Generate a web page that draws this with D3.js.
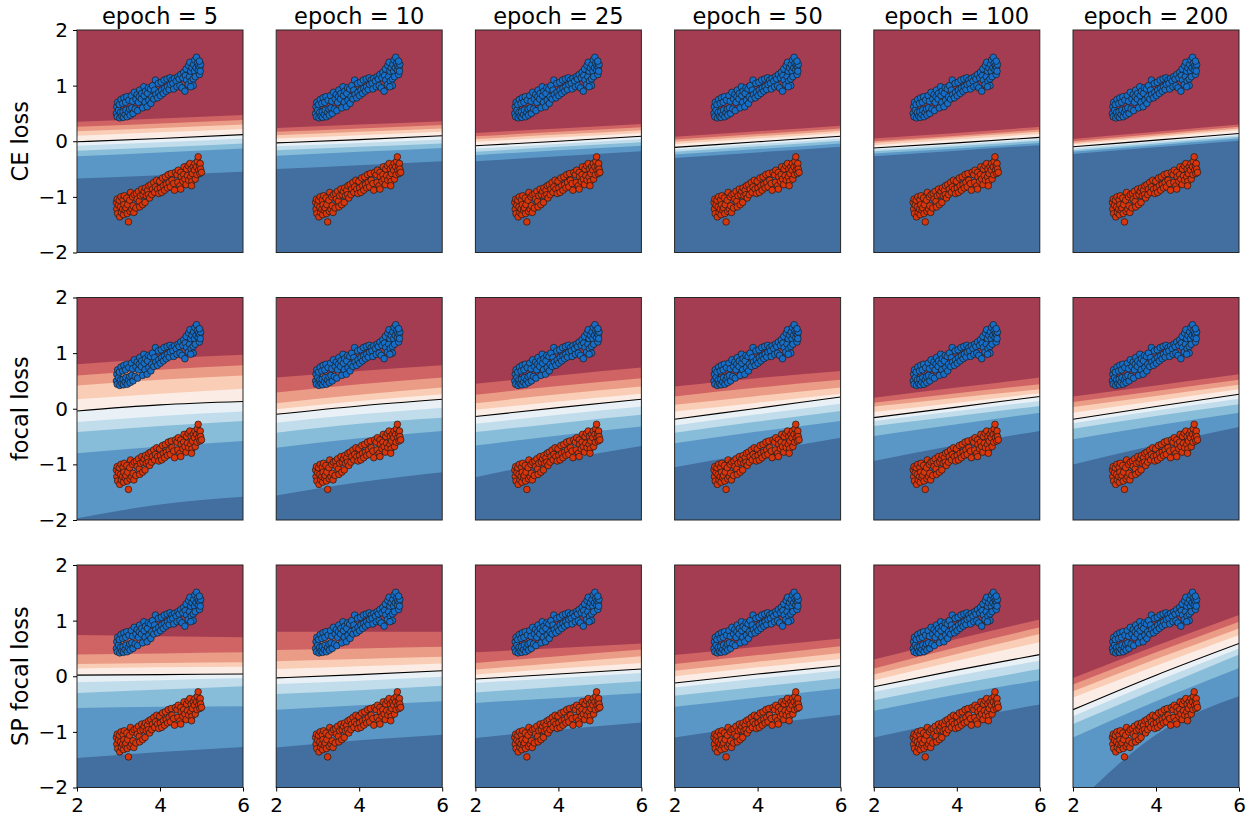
<!DOCTYPE html>
<html>
<head>
<meta charset="utf-8">
<script src="https://cdn.jsdelivr.net/npm/d3@7"></script>
<style>
  body { margin: 0; background: #fff; }
  svg { font-family: "DejaVu Sans", sans-serif; }
</style>
</head>
<body>
<div id="viz"></div>
<script>
var width = 1255, height = 821;
var left = 77, top0 = 30;
var panelW = 166, panelH = 222.5, stepX = 199.2, stepY = 267.5;

var losses = ["CE loss", "focal loss", "SP focal loss"];
var epochs = [5, 10, 25, 50, 100, 200];
var levels = [0.1, 0.2, 0.3, 0.4, 0.5, 0.6, 0.7, 0.8, 0.9];
var boundaryX = [2, 4, 6];
var xTicks = [2, 4, 6];
var yTicks = [-2, -1, 0, 1, 2];

// y of each contour level (0.1 .. 0.9) at x = 2, 4, 6
var ceBounds = [
  [[0.35,0.41,0.47],[0.26,0.32,0.38],[0.18,0.24,0.30],[0.10,0.16,0.22],[-0.01,0.05,0.12],[-0.08,-0.02,0.05],[-0.17,-0.11,-0.04],[-0.27,-0.20,-0.13],[-0.67,-0.61,-0.55]],
  [[0.24,0.30,0.36],[0.17,0.23,0.29],[0.11,0.17,0.23],[0.05,0.11,0.17],[-0.03,0.03,0.10],[-0.09,-0.03,0.03],[-0.16,-0.10,-0.04],[-0.26,-0.19,-0.12],[-0.50,-0.43,-0.36]],
  [[0.15,0.23,0.31],[0.09,0.17,0.25],[0.04,0.12,0.20],[-0.01,0.07,0.15],[-0.08,0.00,0.09],[-0.13,-0.05,0.04],[-0.19,-0.10,-0.02],[-0.25,-0.16,-0.08],[-0.36,-0.27,-0.18]],
  [[0.08,0.18,0.28],[0.03,0.13,0.23],[-0.01,0.09,0.19],[-0.05,0.05,0.15],[-0.11,-0.01,0.09],[-0.15,-0.05,0.05],[-0.19,-0.09,0.01],[-0.24,-0.14,-0.04],[-0.30,-0.20,-0.10]],
  [[0.05,0.15,0.26],[0.00,0.10,0.21],[-0.03,0.07,0.17],[-0.07,0.03,0.13],[-0.12,-0.03,0.07],[-0.15,-0.06,0.04],[-0.18,-0.09,0.01],[-0.22,-0.13,-0.03],[-0.27,-0.17,-0.07]],
  [[0.04,0.17,0.30],[0.00,0.13,0.26],[-0.03,0.10,0.23],[-0.06,0.07,0.20],[-0.10,0.02,0.14],[-0.13,-0.01,0.11],[-0.16,-0.04,0.08],[-0.19,-0.07,0.05],[-0.23,-0.11,0.01]]
];
var focalBounds = [
  [[0.80,0.90,0.97],[0.60,0.70,0.78],[0.42,0.52,0.60],[0.17,0.27,0.36],[-0.04,0.07,0.13],[-0.24,-0.13,-0.05],[-0.42,-0.31,-0.22],[-0.80,-0.68,-0.58],[-1.97,-1.72,-1.58]],
  [[0.56,0.68,0.78],[0.29,0.44,0.56],[0.10,0.25,0.38],[-0.01,0.14,0.26],[-0.10,0.05,0.17],[-0.25,-0.10,0.02],[-0.43,-0.27,-0.16],[-0.70,-0.53,-0.40],[-1.56,-1.32,-1.14]],
  [[0.45,0.60,0.74],[0.25,0.41,0.55],[0.10,0.26,0.40],[-0.02,0.13,0.27],[-0.14,0.02,0.17],[-0.27,-0.11,0.04],[-0.42,-0.26,-0.11],[-0.66,-0.48,-0.32],[-1.23,-0.93,-0.67]],
  [[0.40,0.55,0.68],[0.22,0.38,0.52],[0.07,0.23,0.38],[-0.05,0.11,0.27],[-0.19,0.01,0.21],[-0.30,-0.10,0.09],[-0.43,-0.23,-0.04],[-0.62,-0.41,-0.22],[-1.05,-0.78,-0.52]],
  [[0.20,0.38,0.56],[0.11,0.28,0.44],[0.04,0.20,0.35],[-0.06,0.11,0.28],[-0.16,0.03,0.22],[-0.22,-0.04,0.14],[-0.31,-0.13,0.05],[-0.49,-0.28,-0.07],[-0.94,-0.65,-0.40]],
  [[0.22,0.42,0.62],[0.12,0.32,0.52],[0.03,0.23,0.43],[-0.07,0.14,0.35],[-0.19,0.04,0.26],[-0.26,-0.03,0.18],[-0.36,-0.13,0.08],[-0.55,-0.30,-0.07],[-1.00,-0.65,-0.33]]
];
var spBounds = [
  [[0.74,0.72,0.70],[0.39,0.41,0.43],[0.22,0.24,0.25],[0.14,0.16,0.17],[0.02,0.03,0.04],[-0.11,-0.07,-0.03],[-0.30,-0.24,-0.18],[-0.57,-0.55,-0.54],[-1.47,-1.36,-1.27]],
  [[0.80,0.80,0.80],[0.47,0.50,0.53],[0.27,0.31,0.35],[0.13,0.18,0.23],[-0.03,0.03,0.10],[-0.14,-0.08,-0.01],[-0.32,-0.25,-0.17],[-0.60,-0.52,-0.45],[-1.28,-1.15,-1.05]],
  [[0.43,0.51,0.59],[0.24,0.36,0.48],[0.12,0.24,0.36],[0.03,0.14,0.24],[-0.05,0.04,0.13],[-0.12,-0.03,0.06],[-0.29,-0.19,-0.09],[-0.48,-0.39,-0.30],[-1.11,-0.96,-0.83]],
  [[0.38,0.53,0.68],[0.22,0.38,0.54],[0.10,0.26,0.42],[0.00,0.16,0.31],[-0.12,0.04,0.19],[-0.20,-0.04,0.11],[-0.35,-0.19,-0.03],[-0.55,-0.38,-0.22],[-1.10,-0.88,-0.69]],
  [[0.30,0.67,1.02],[0.14,0.52,0.88],[0.03,0.40,0.76],[-0.07,0.28,0.61],[-0.19,0.11,0.39],[-0.28,0.01,0.28],[-0.43,-0.14,0.13],[-0.62,-0.33,-0.07],[-1.10,-0.78,-0.51]],
  [[-0.03,0.55,1.10],[-0.15,0.43,0.98],[-0.27,0.31,0.86],[-0.38,0.19,0.74],[-0.60,0.02,0.59],[-0.72,-0.09,0.50],[-0.86,-0.23,0.39],[-1.10,-0.45,0.15],[-2.35,-1.05,-0.36]]
];
var allBounds = [ceBounds, focalBounds, spBounds];

// training points, class 1 (blue, upper) and class 0 (red, lower)
var bluePoints = [
  [2.95,0.50],[2.96,0.62],[2.97,0.44],[2.98,0.70],[3.00,0.56],[3.02,0.66],[3.03,0.42],[3.05,0.52],[3.06,0.75],[3.08,0.45],
  [3.10,0.68],[3.11,0.53],[3.12,0.43],[3.13,0.78],[3.16,0.48],[3.17,0.70],[3.18,0.56],[3.20,0.80],[3.21,0.44],[3.24,0.52],
  [3.25,0.74],[3.27,0.58],[3.28,0.47],[3.31,0.82],[3.32,0.60],[3.34,0.72],[3.35,0.50],[3.38,0.88],[3.40,0.58],[3.42,0.76],
  [3.45,0.84],[3.46,0.55],[3.48,0.70],[3.50,0.80],[3.51,0.92],[3.55,0.76],[3.56,0.86],[3.58,0.60],[3.61,0.98],[3.62,0.82],
  [3.64,0.70],[3.65,0.90],[3.69,0.62],[3.70,0.86],[3.72,0.96],[3.73,0.74],[3.77,0.94],[3.78,0.68],[3.80,0.80],[3.82,1.00],
  [3.85,0.76],[3.87,0.92],[3.89,1.10],[3.90,0.84],[3.94,0.78],[3.96,1.04],[3.97,0.88],[4.01,0.82],[4.03,1.06],[4.04,0.92],
  [4.08,0.86],[4.10,1.10],[4.11,0.95],[4.15,0.90],[4.17,1.12],[4.18,0.98],[4.22,0.93],[4.24,1.14],[4.25,1.02],[4.29,1.10],
  [4.31,1.04],[4.33,0.94],[4.35,1.13],[4.39,1.08],[4.41,0.98],[4.43,1.16],[4.46,1.12],[4.48,1.00],[4.50,1.20],[4.53,0.96],
  [4.55,1.14],[4.57,1.24],[4.60,0.90],[4.61,1.18],[4.63,1.30],[4.64,1.10],[4.68,1.02],[4.69,1.36],[4.71,1.16],[4.72,1.42],
  [4.74,1.26],[4.75,1.08],[4.77,1.32],[4.80,1.12],[4.81,1.38],[4.83,1.26],[4.84,1.46],[4.85,1.16],[4.87,1.32],[4.88,1.51],
  [4.90,1.40],[4.92,1.28],[4.93,1.36],[4.95,1.20],[4.96,1.33],[4.97,1.26],[4.98,1.38],[4.95,1.44],[4.80,1.00],[4.74,0.98]
];
var redPoints = [
  [2.95,-1.10],[2.96,-1.22],[2.97,-1.04],[2.98,-1.30],[3.00,-1.15],[3.02,-1.06],[3.03,-1.36],[3.05,-1.18],[3.06,-1.00],[3.07,-1.28],
  [3.10,-1.22],[3.11,-1.05],[3.12,-1.32],[3.13,-1.14],[3.14,-0.98],[3.16,-1.24],[3.18,-1.20],[3.20,-1.02],[3.21,-1.30],[3.22,-1.14],
  [3.24,-1.45],[3.27,-1.06],[3.28,-1.26],[3.29,-0.92],[3.32,-1.22],[3.34,-1.00],[3.35,-1.16],[3.37,-1.28],[3.38,-0.96],[3.42,-1.20],
  [3.43,-0.94],[3.45,-1.04],[3.48,-0.90],[3.50,-1.08],[3.51,-1.18],[3.53,-0.98],[3.56,-0.86],[3.58,-1.14],[3.59,-0.96],[3.62,-0.90],
  [3.64,-1.10],[3.65,-0.84],[3.67,-0.98],[3.70,-0.88],[3.72,-0.96],[3.73,-0.80],[3.75,-1.02],[3.78,-0.78],[3.80,-0.96],[3.82,-0.86],
  [3.85,-0.74],[3.87,-0.92],[3.89,-0.82],[3.92,-0.70],[3.94,-0.86],[3.97,-0.94],[3.99,-0.72],[4.01,-0.84],[4.04,-0.92],[4.06,-0.66],
  [4.08,-0.80],[4.11,-0.88],[4.13,-0.64],[4.15,-0.78],[4.18,-0.84],[4.20,-0.60],[4.22,-0.74],[4.25,-0.82],[4.27,-0.58],[4.29,-0.70],
  [4.33,-0.76],[4.35,-0.88],[4.37,-0.56],[4.41,-0.60],[4.43,-0.74],[4.44,-0.52],[4.48,-0.80],[4.50,-0.56],[4.51,-0.64],[4.55,-0.72],
  [4.57,-0.60],[4.58,-0.46],[4.60,-0.68],[4.63,-0.78],[4.64,-0.50],[4.66,-0.62],[4.68,-0.44],[4.69,-0.70],[4.72,-0.40],[4.74,-0.64],
  [4.75,-0.50],[4.77,-0.72],[4.78,-0.58],[4.80,-0.46],[4.83,-0.52],[4.84,-0.40],[4.85,-0.68],[4.88,-0.46],[4.89,-0.60],[4.90,-0.36],
  [4.92,-0.28],[4.93,-0.52],[4.95,-0.44],[4.96,-0.58],[4.97,-0.40],[4.98,-0.50],[5.00,-0.56],[4.76,-0.80],[4.50,-0.86]
];

// matplotlib RdBu control colours
var rdbu = ["#67001f","#b2182b","#d6604d","#f4a582","#fddbc7","#f7f7f7","#d1e5f0","#92c5de","#4393c3","#2166ac","#053061"];
var cmap = d3.piecewise(d3.interpolateRgb, rdbu);
// band colours at level midpoints, alpha .8 over white
var bandColor = d3.range(10).map(k => d3.interpolateRgb("#ffffff", cmap(0.05 + 0.1 * k))(0.8));

var x = d3.scaleLinear().domain([2, 6]).range([0, panelW]);
var y = d3.scaleLinear().domain([-2, 2]).range([panelH, 0]);

var below = d3.area()
  .x((d, i) => x(boundaryX[i]))
  .y0(y(-3))
  .y1(d => y(d))
  .curve(d3.curveNatural);

var line = d3.line()
  .x((d, i) => x(boundaryX[i]))
  .y(d => y(d))
  .curve(d3.curveNatural);

var svg = d3.select("#viz").append("svg")
  .attr("width", width)
  .attr("height", height);

losses.forEach(function(loss, r) {
  epochs.forEach(function(ep, c) {
    var bounds = allBounds[r][c];
    var g = svg.append("g")
      .attr("transform", "translate(" + (left + c * stepX) + "," + (top0 + r * stepY) + ")");

    var clipId = "clip-" + r + "-" + c;
    g.append("clipPath").attr("id", clipId)
      .append("rect").attr("width", panelW).attr("height", panelH);

    var plot = g.append("g").attr("clip-path", "url(#" + clipId + ")");

    plot.append("rect")
      .attr("width", panelW)
      .attr("height", panelH)
      .attr("fill", bandColor[0]);

    bounds.forEach(function(b, k) {
      plot.append("path")
        .datum(b)
        .attr("fill", bandColor[k + 1])
        .attr("d", below);
    });

    // decision boundary p = 0.5
    plot.append("path")
      .datum(bounds[levels.indexOf(0.5)])
      .attr("fill", "none")
      .attr("stroke", "#000")
      .attr("stroke-width", 1.1)
      .attr("d", line);

    plot.selectAll(".red").data(redPoints).enter().append("circle")
      .attr("cx", d => x(d[0])).attr("cy", d => y(d[1])).attr("r", 3.3)
      .attr("fill", "#d9360c").attr("stroke", "#1a1a1a").attr("stroke-width", 0.7);

    plot.selectAll(".blue").data(bluePoints).enter().append("circle")
      .attr("cx", d => x(d[0])).attr("cy", d => y(d[1])).attr("r", 3.3)
      .attr("fill", "#176ec8").attr("stroke", "#1a1a1a").attr("stroke-width", 0.7);

    g.append("rect")
      .attr("width", panelW)
      .attr("height", panelH)
      .attr("fill", "none")
      .attr("stroke", "#262626")
      .attr("stroke-width", 1);

    if (c === 0) {
      var ya = g.append("g")
        .call(d3.axisLeft(y).tickValues(yTicks).tickSize(4).tickPadding(5).tickFormat(d3.format("d")));
      ya.select(".domain").remove();
      ya.selectAll("text").attr("font-size", 20).attr("font-family", "DejaVu Sans").attr("fill", "#000");
      ya.selectAll("line").attr("stroke", "#000");

      g.append("text")
        .attr("transform", "translate(" + (-49) + "," + (panelH / 2) + ") rotate(-90)")
        .attr("text-anchor", "middle")
        .attr("font-size", 22.5)
        .text(loss);
    }
    if (r === losses.length - 1) {
      var xa = g.append("g")
        .attr("transform", "translate(0," + panelH + ")")
        .call(d3.axisBottom(x).tickValues(xTicks).tickSize(4).tickPadding(6).tickFormat(d3.format("d")));
      xa.select(".domain").remove();
      xa.selectAll("text").attr("font-size", 20).attr("font-family", "DejaVu Sans").attr("fill", "#000");
      xa.selectAll("line").attr("stroke", "#000");
    }
    if (r === 0) {
      g.append("text")
        .attr("x", panelW / 2)
        .attr("y", -6)
        .attr("text-anchor", "middle")
        .attr("font-size", 22.5)
        .text("epoch = " + ep);
    }
  });
});
</script>
</body>
</html>
